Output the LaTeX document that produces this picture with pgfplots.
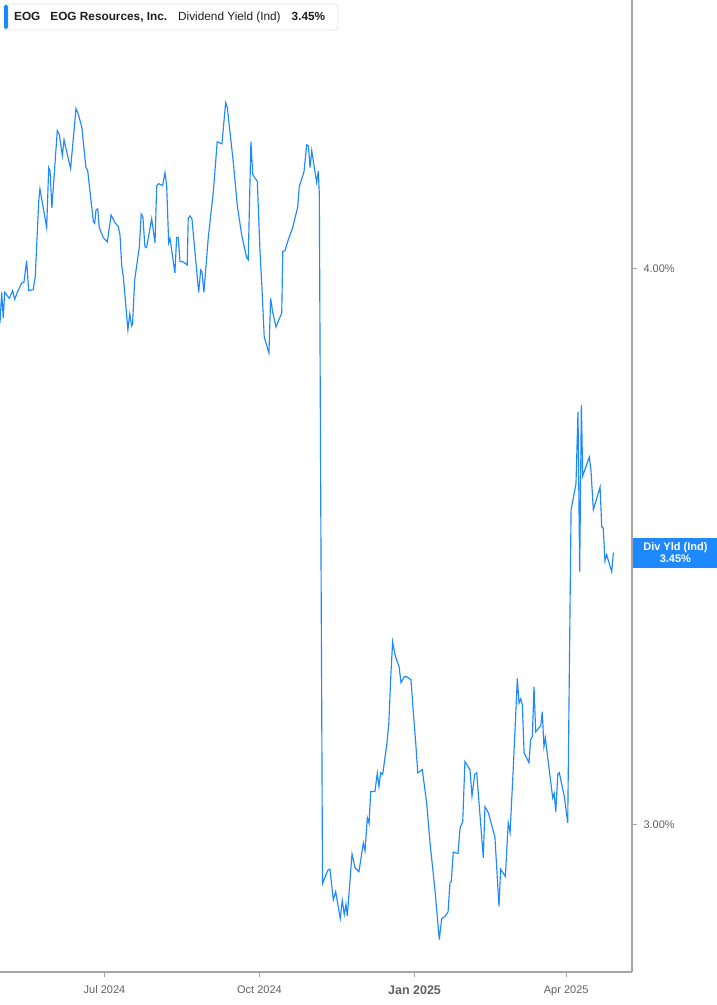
\documentclass[border=0pt]{standalone}
\usepackage{fontspec}
\setmainfont{Liberation Sans}
\usepackage{pgfplots}
\usepackage{pgfplotstable}
\pgfplotsset{compat=1.18}

\definecolor{lineblue}{RGB}{30,136,255}
\definecolor{axisgray}{RGB}{165,165,165}
\definecolor{labelgray}{RGB}{95,95,95}
\definecolor{boxgray}{RGB}{228,228,228}
\definecolor{headtext}{RGB}{30,30,30}

% day 0 = 1 Jul 2024; dividend yield in percent
\pgfplotstableread{
day yield
-62.0 3.890
-61.0 3.952
-60.1 3.900
-59.2 3.952
-56.5 3.940
-54.5 3.956
-53.3 3.938
-51.7 3.952
-49.1 3.971
-47.8 3.973
-46.2 4.017
-45.0 3.956
-42.3 3.958
-41.1 3.983
-39.0 4.143
-38.3 4.169
-34.3 4.086
-33.1 4.215
-32.3 4.208
-31.2 4.128
-28.0 4.297
-26.8 4.288
-25.0 4.241
-24.0 4.276
-20.1 4.213
-16.9 4.346
-15.5 4.333
-13.4 4.303
-11.0 4.215
-10.0 4.210
-6.6 4.099
-5.8 4.095
-5.0 4.124
-4.0 4.126
-3.1 4.086
-0.7 4.065
1.7 4.056
3.9 4.113
6.2 4.097
8.2 4.088
9.2 4.071
10.2 4.008
11.2 3.983
13.9 3.876
15.0 3.908
16.1 3.884
16.7 3.888
17.9 3.977
20.7 4.046
21.8 4.115
22.8 4.109
24.0 4.046
25.0 4.044
28.0 4.105
30.0 4.054
31.0 4.176
32.2 4.180
34.5 4.176
35.9 4.204
36.9 4.176
38.1 4.054
38.9 4.063
41.8 3.992
42.8 4.065
43.8 4.065
44.8 4.015
46.4 4.015
49.1 4.008
49.7 4.105
50.7 4.111
51.9 4.105
55.9 3.952
57.1 3.998
57.9 3.994
59.0 3.952
61.6 4.065
64.6 4.163
66.9 4.272
69.7 4.267
71.9 4.359
72.9 4.348
76.4 4.228
78.8 4.134
81.4 4.071
84.4 4.023
85.3 4.019
86.9 4.272
88.0 4.200
90.7 4.185
92.3 4.036
93.3 3.973
94.8 3.862
97.6 3.830
98.6 3.940
99.8 3.912
101.8 3.882
105.2 3.910
105.8 4.036
107.1 4.038
109.1 4.061
111.7 4.086
113.1 4.107
114.7 4.130
115.6 4.174
118.4 4.206
120.0 4.265
121.0 4.263
122.0 4.215
123.0 4.252
125.9 4.183
126.9 4.208
127.5 4.156
129.4 2.910
132.5 2.930
133.8 2.932
135.8 2.886
137.2 2.898
139.9 2.858
141.1 2.885
142.3 2.864
143.3 2.879
144.1 2.862
146.9 2.955
148.7 2.934
151.0 2.928
153.6 2.972
154.6 2.960
156.0 3.011
157.0 3.002
158.0 3.052
160.5 3.052
161.9 3.081
162.9 3.060
163.9 3.082
165.1 3.079
167.5 3.127
168.7 3.160
170.0 3.245
171.0 3.298
172.4 3.276
174.8 3.256
176.0 3.229
177.9 3.239
179.3 3.239
181.9 3.234
183.3 3.179
184.7 3.130
185.9 3.082
188.6 3.087
191.2 3.034
193.2 2.972
196.1 2.901
198.7 2.827
200.1 2.858
202.1 2.861
203.9 2.868
205.0 2.911
205.8 2.913
207.0 2.958
209.8 2.956
211.0 2.995
212.6 3.005
213.9 3.100
216.9 3.087
218.1 3.045
219.7 3.079
220.9 3.082
224.8 2.949
225.8 3.028
227.8 3.019
231.7 2.981
234.1 2.876
235.1 2.932
237.9 2.921
239.6 3.003
240.7 2.988
242.6 3.090
245.0 3.236
246.0 3.195
247.0 3.202
248.0 3.192
249.0 3.114
251.9 3.098
252.9 3.135
253.9 3.140
254.9 3.222
255.9 3.148
258.9 3.158
259.8 3.181
260.8 3.124
261.6 3.138
266.0 3.042
266.9 3.049
267.8 3.020
269.0 3.079
269.9 3.082
272.9 3.044
274.9 3.003
276.9 3.531
279.8 3.579
281.0 3.715
282.0 3.420
283.0 3.728
283.8 3.594
287.7 3.629
288.7 3.605
290.1 3.531
294.1 3.573
295.1 3.500
296.0 3.498
297.0 3.439
298.0 3.450
301.0 3.420
302.0 3.454
}\eogyield

\begin{document}
\begin{tikzpicture}
\useasboundingbox (0,0) rectangle (717bp,1005bp);
\begin{axis}[
    at={(0,33bp)}, anchor=south west,
    scale only axis, width=632bp, height=972bp,
    ymode=log,
    xmin=-62.0, xmax=313.05,
    ymin=2.780, ymax=4.597,
    axis x line*=bottom, axis y line*=right,
    axis line style={axisgray, line width=1.4bp},
    xtick={0,92,184,274},
    xticklabels={Jul 2024, Oct 2024, {\raisebox{-2.5bp}{\fontsize{12.5bp}{14bp}\selectfont\bfseries Jan 2025}}, Apr 2025},
    ytick={3,4}, yticklabels={3.00\%, 4.00\%},
    yminorticks=false, xminorticks=false,
    tick align=outside, major tick length=5bp,
    tick style={axisgray, line width=1bp},
    ticklabel style={font=\fontsize{11bp}{13bp}\selectfont, text=labelgray},
    xticklabel style={yshift=-5.5bp},
    yticklabel style={anchor=west, xshift=3bp},
]
\addplot[lineblue, line width=1.15bp, no markers] table[x=day, y=yield] {\eogyield};
\coordinate (lastpt) at (axis cs:313.05,3.454);
\end{axis}

% header box
\draw[boxgray, fill=white, rounded corners=3bp, line width=0.8bp] (4bp,975bp) rectangle (338bp,1001bp);
\fill[lineblue, rounded corners=1.5bp] (4bp,976bp) rectangle (8bp,1000bp);
\node[anchor=west, inner sep=0, text=headtext, font=\fontsize{11.8bp}{14bp}\selectfont] at (14bp,988bp)
  {\textbf{EOG}\hspace{10bp}\textbf{EOG Resources, Inc.}\hspace{11bp}Dividend Yield (Ind)\hspace{11bp}\textbf{3.45\%}};

% last value label
\node[anchor=west, fill=lineblue, text=white, inner sep=0, minimum width=85bp, minimum height=30bp,
      align=center, font=\bfseries\fontsize{11bp}{12bp}\selectfont] at ([xshift=0.7bp]lastpt)
  {Div Yld (Ind)\\3.45\%};
\end{tikzpicture}
\end{document}
